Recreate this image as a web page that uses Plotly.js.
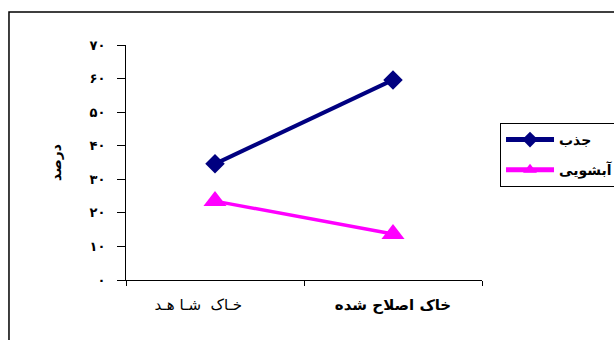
<!DOCTYPE html>
<html>
<head>
<meta charset="utf-8">
<script src="https://cdn.plot.ly/plotly-3.0.1.min.js"></script>
<style>html,body{margin:0;padding:0;background:#fff;}#chart{width:614px;height:340px;}</style>
</head>
<body>
<div id="chart"></div>
<script>
var categories = ["خاک شاهد", "خاک اصلاح شده"];
var categoryLabels = ["خـاک\u00a0\u00a0شـا\u00a0هـد\u00a0\u00a0\u00a0\u00a0\u00a0\u00a0\u00a0", "<b>خاک اصلاح شده</b>"];
var seriesNames = ["جذب", "آبشویی"];
var absorption = [34.6, 59.6];
var leaching = [23.5, 13.7];
var yTickVals = [0, 10, 20, 30, 40, 50, 60, 70];
var yTickText = ["۰", "۱۰", "۲۰", "۳۰", "۴۰", "۵۰", "۶۰", "۷۰"];
var yTitle = "درصد";

var font = "DejaVu Sans, Arial, sans-serif";

var traces = [
  {
    x: categories, y: absorption, name: seriesNames[0], type: "scatter", mode: "lines+markers",
    legendgroup: "a",
    line: {color: "#000080", width: 4},
    marker: {symbol: "diamond", size: 15, color: "#000080"}
  },
  {
    x: categories, y: leaching, name: seriesNames[1], type: "scatter", mode: "lines+markers",
    legendgroup: "b",
    line: {color: "#FF00FF", width: 3.5},
    marker: {symbol: "triangle-up", size: 20, color: "#FF00FF"}
  }
];

var layout = {
  width: 614, height: 340,
  margin: {l: 126, r: 132, t: 45, b: 60, autoexpand: false},
  paper_bgcolor: "#fff", plot_bgcolor: "#fff",
  font: {family: font, color: "#000"},
  showlegend: true,
  legend: {
    x: 1.0506, xanchor: "left", y: 0.668, yanchor: "top",
    bordercolor: "#000", borderwidth: 1, bgcolor: "#fff",
    font: {family: font, size: 14, color: "#000", weight: "bold"},
    itemwidth: 48, tracegroupgap: 9, itemsizing: "constant"
  },
  xaxis: {
    type: "category", range: [-0.5, 1.5],
    tickvals: categories, ticktext: categoryLabels,
    tickson: "boundaries", ticks: "outside", ticklen: 5, tickcolor: "#000",
    showline: true, linecolor: "#000", linewidth: 1,
    showgrid: false, zeroline: false,
    tickfont: {family: font, size: 15, color: "#000"},
    ticklabelstandoff: 11
  },
  yaxis: {
    range: [0, 70], tickvals: yTickVals, ticktext: yTickText,
    ticks: "outside", ticklen: 8, tickcolor: "#000",
    showline: true, linecolor: "#000", linewidth: 1,
    showgrid: false, zeroline: false,
    tickfont: {family: font, size: 13, color: "#000", weight: "bold"},
    ticklabelstandoff: 9,
    title: {text: yTitle, font: {family: font, size: 14, color: "#000", weight: "bold"}, standoff: 24}
  },
  shapes: [{
    type: "rect", xref: "paper", yref: "paper",
    x0: -0.3287, x1: 1.40, y0: -0.30, y1: 1.14,
    line: {color: "#000", width: 1.5}, fillcolor: "rgba(0,0,0,0)", layer: "below"
  }]
};

Plotly.newPlot("chart", traces, layout, {displayModeBar: false, staticPlot: true});
</script>
</body>
</html>
